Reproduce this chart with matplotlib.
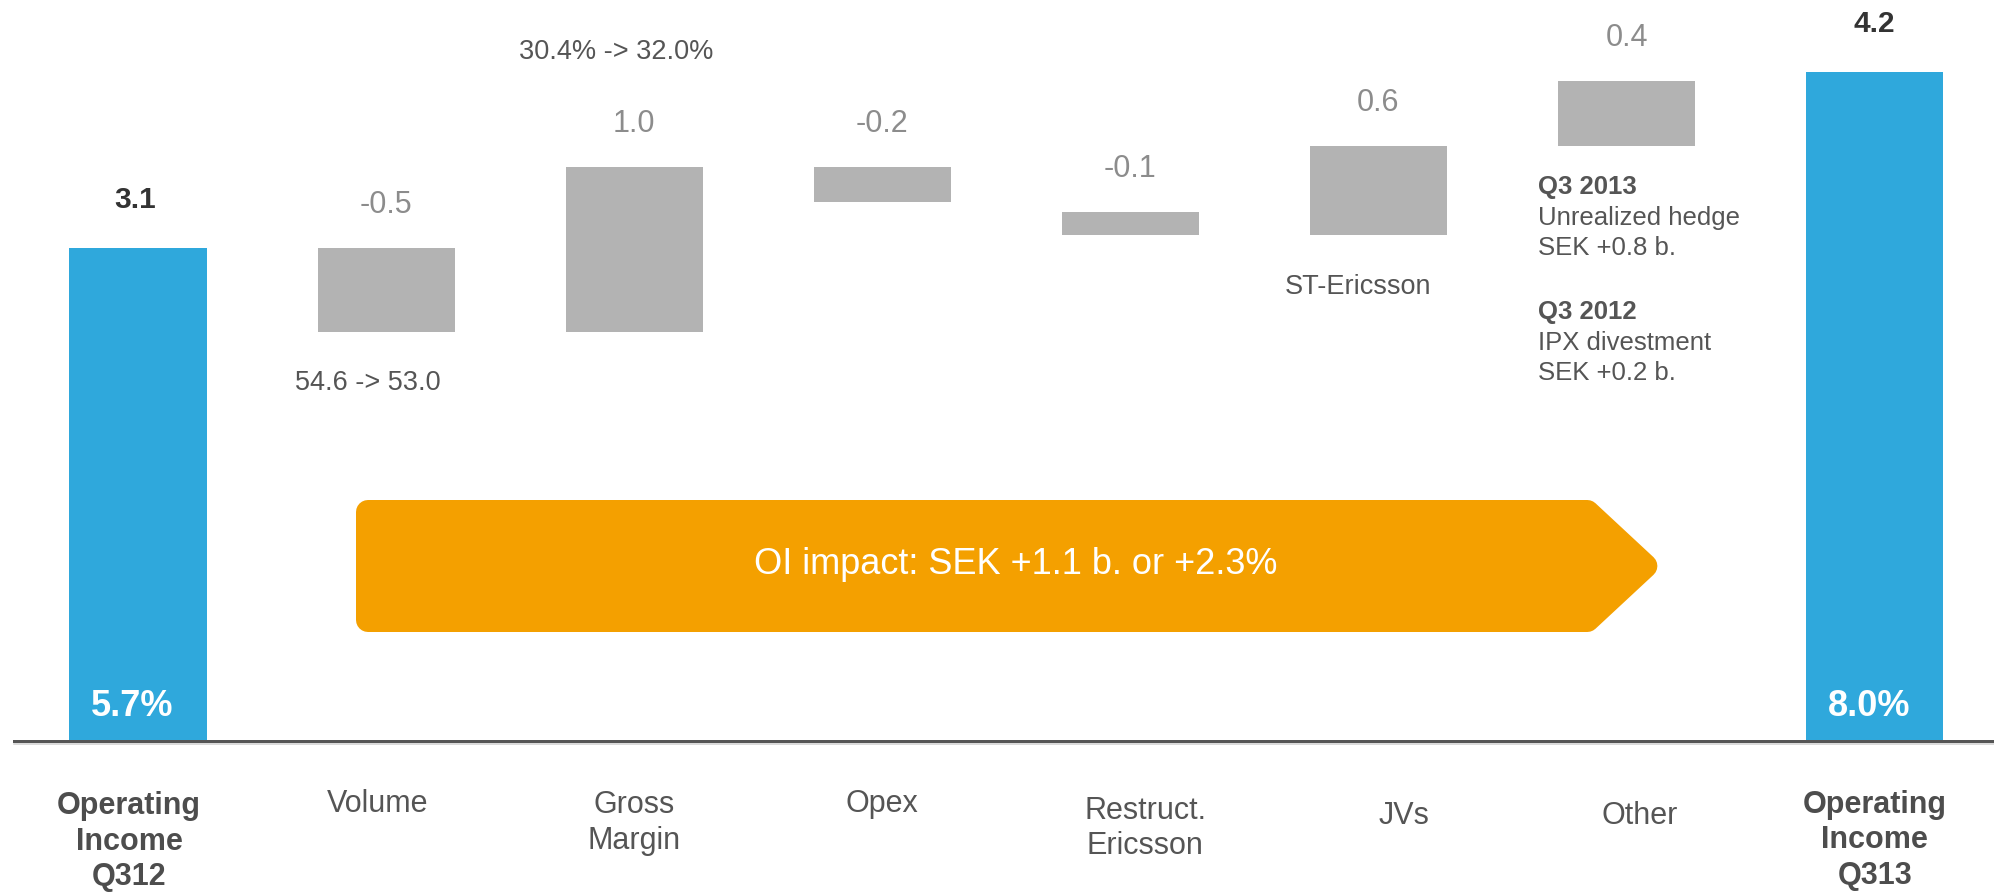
import matplotlib
matplotlib.use("Agg")
import matplotlib.pyplot as plt
from matplotlib.patches import Polygon
import numpy as np

plt.rcParams['font.family'] = ['Liberation Sans', 'DejaVu Sans']

# ---------------- data ----------------
categories = ["Operating\nIncome\nQ312", "Volume", "Gross\nMargin", "Opex",
              "Restruct.\nEricsson", "JVs", "Other", "Operating\nIncome\nQ313"]
bar_start = [0.00, 3.10, 2.57, 3.61, 3.33, 3.18, 3.74, 0.00]
bar_end = [3.10, 2.57, 3.61, 3.39, 3.18, 3.74, 4.15, 4.21]
value_labels = ["3.1", "-0.5", "1.0", "-0.2", "-0.1", "0.6", "0.4", "4.2"]
is_total = [True, False, False, False, False, False, False, True]
margin_labels = ["5.7%", "", "", "", "", "", "", "8.0%"]
impact_text = "OI impact: SEK +1.1 b. or +2.3%"

# ---------------- layout ----------------
W, H = 1994, 893
fig = plt.figure(figsize=(W / 100, H / 100), dpi=100)
ax = fig.add_axes([0, 0, 1, 1])
PXX, PXY = 248.1, 159.0      # pixels per data unit
X0, Y0 = 138.0, 741.0        # pixel position of (0, 0)
ax.set_xlim(-X0 / PXX, (W - X0) / PXX)
ax.set_ylim(-(H - Y0) / PXY, Y0 / PXY)
ax.axis('off')

BLUE = "#2FA8DC"
GREY = "#B3B3B3"
ORANGE = "#F4A000"
PT = 0.72  # points per pixel

x = np.arange(len(categories))
heights = np.array(bar_end) - np.array(bar_start)
colors = [BLUE if t else GREY for t in is_total]
ax.bar(x, heights, bottom=bar_start, width=137 / PXX, color=colors,
       edgecolor='none', zorder=2)

# baseline
ax.axhline(0, xmin=14 / W, xmax=1, color="#555555", lw=3 * PT, zorder=3)
ax.axhline(-2.5 / PXY, xmin=14 / W, xmax=1, color="#cfcfcf", lw=1.5 * PT, zorder=1)

# value labels above bars
for i in range(len(categories)):
    top = max(bar_start[i], bar_end[i])
    if is_total[i]:
        ax.annotate(value_labels[i], (x[i], top), xytext=(-3 * PT if i == 0 else 0, 48 * PT),
                    textcoords='offset points', ha='center', va='center',
                    fontsize=21.5, fontweight='bold', color="#333333")
    else:
        ax.annotate(value_labels[i], (x[i], top), xytext=(0, 43 * PT),
                    textcoords='offset points', ha='center', va='center',
                    fontsize=22, color="#8c8c8c")
    if margin_labels[i]:
        ax.annotate(margin_labels[i], (x[i], 0), xytext=(-6 * PT, 34 * PT),
                    textcoords='offset points', ha='center', va='center',
                    fontsize=26, fontweight='bold', color="white", zorder=4)

# category labels under the axis
label_dx = [-9, -8, 0, 0, 15, 26, 13, 0]
label_y1 = [806, 804, 805, 804, 811, 816, 816, 805]
for i, cat in enumerate(categories):
    bold = is_total[i]
    for k, line in enumerate(cat.split("\n")):
        ypx = label_y1[i] + k * 35.5
        ax.annotate(line, (x[i], 0), xytext=(label_dx[i] * PT, -(ypx - Y0) * PT),
                    textcoords='offset points', ha='center', va='center',
                    fontsize=22, fontweight='bold' if bold else 'normal',
                    color="#4d4d4d" if bold else "#555555")

# annotations
def ftext(px, py, s, **kw):
    fig.text(px / W, 1 - py / H, s, **kw)

ftext(368, 383, "54.6 -> 53.0", ha='center', va='center', fontsize=19.5, color="#555555")
ftext(616, 52, "30.4% -> 32.0%", ha='center', va='center', fontsize=19.5, color="#555555")
ftext(1358, 287, "ST-Ericsson", ha='center', va='center', fontsize=19.5, color="#555555")
note_lines = [("Q3 2013", True, 187), ("Unrealized hedge", False, 218),
              ("SEK +0.8 b.", False, 248), ("Q3 2012", True, 312),
              ("IPX divestment", False, 343), ("SEK +0.2 b.", False, 373)]
for s, b, py in note_lines:
    ftext(1538, py, s, ha='left', va='center', fontsize=18.5,
          fontweight='bold' if b else 'normal', color="#555555")

# orange arrow
def inset(pts, r):
    pts = np.array(pts, float)
    n = len(pts)
    c = pts.mean(0)
    lines = []
    for k in range(n):
        p, q = pts[k], pts[(k + 1) % n]
        d = (q - p) / np.linalg.norm(q - p)
        nrm = np.array([-d[1], d[0]])
        if np.dot(c - p, nrm) < 0:
            nrm = -nrm
        lines.append((p + nrm * r, d))
    out = []
    for k in range(n):
        (p1, d1), (p2, d2) = lines[k - 1], lines[k]
        A = np.array([d1, -d2]).T
        t, s = np.linalg.solve(A, p2 - p1)
        out.append(p1 + t * d1)
    return np.array(out)

arrow_px = [(356, 500), (1592, 500), (1663, 566), (1592, 632), (356, 632)]
r = 12
ins = inset(arrow_px, r)
arrow_data = np.column_stack([(ins[:, 0] - X0) / PXX, (Y0 - ins[:, 1]) / PXY])
ax.add_patch(Polygon(arrow_data, closed=True, facecolor=ORANGE, edgecolor=ORANGE,
                     lw=2 * r * PT, joinstyle='round', zorder=2))
ftext(1016, 565, impact_text, ha='center', va='center', fontsize=26, color="white")

fig.savefig("out.png", dpi=100, facecolor="white")
